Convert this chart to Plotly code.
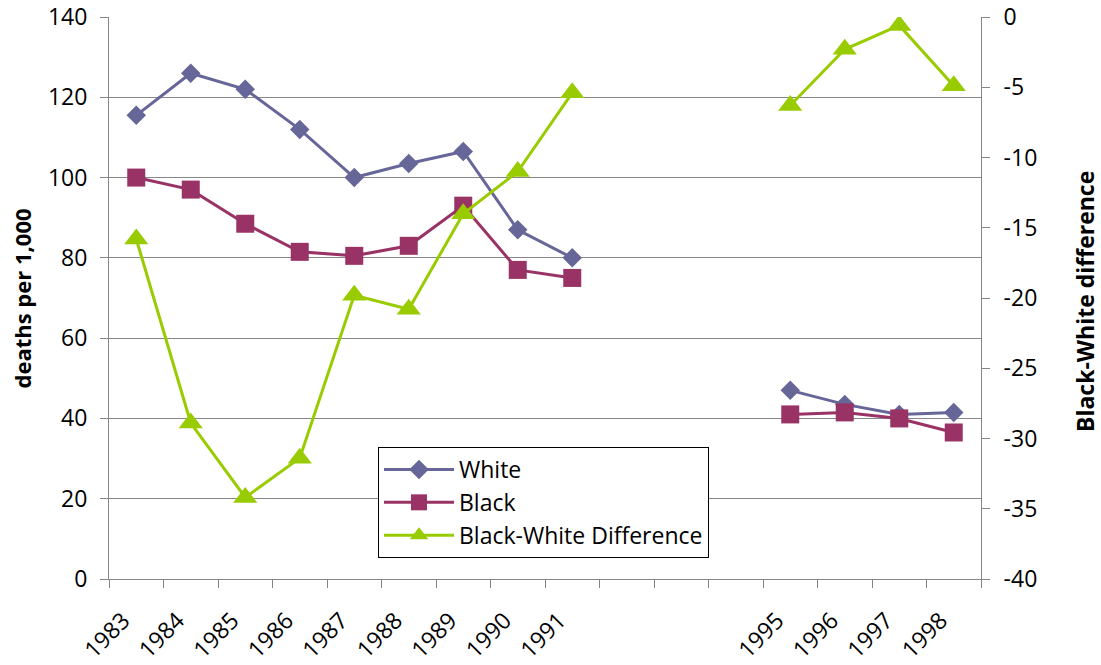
import plotly.graph_objects as go

# Year categories (1992-1994 carry no data and no label)
years = ["1983", "1984", "1985", "1986", "1987", "1988", "1989", "1990", "1991",
         "1992", "1993", "1994", "1995", "1996", "1997", "1998"]
tick_labels = ["1983", "1984", "1985", "1986", "1987", "1988", "1989", "1990", "1991",
               "", "", "", "1995", "1996", "1997", "1998"]

# Right-axis ticks, written with a plain hyphen
diff_ticks = [0, -5, -10, -15, -20, -25, -30, -35, -40]
diff_tick_labels = ["0", "-5", "-10", "-15", "-20", "-25", "-30", "-35", "-40"]

# Death rates per 1,000
white = [115.5, 126, 122, 112, 100, 103.5, 106.5, 87, 80,
         None, None, None, 47, 43.5, 41, 41.5]
black = [100, 97, 88.5, 81.5, 80.5, 83, 93, 77, 75,
         None, None, None, 41, 41.5, 40, 36.5]
# Black minus White difference (right axis)
difference = [-15.8, -28.9, -34.2, -31.4, -19.8, -20.8, -14, -11, -5.4,
              None, None, None, -6.3, -2.3, -0.6, -4.9]

FONT = "Open Sans"
AXIS_GREY = "#868686"

fig = go.Figure()
fig.add_trace(go.Scatter(
    x=years, y=white, name="White", mode="lines+markers",
    line=dict(color="#666699", width=3),
    marker=dict(symbol="diamond", size=15, color="#666699"),
    connectgaps=False,
))
fig.add_trace(go.Scatter(
    x=years, y=black, name="Black", mode="lines+markers",
    line=dict(color="#993366", width=3),
    marker=dict(symbol="square", size=18, color="#993366"),
    connectgaps=False,
))
fig.add_trace(go.Scatter(
    x=years, y=difference, name="Black-White Difference", mode="lines+markers",
    line=dict(color="#99CC00", width=3),
    marker=dict(symbol="triangle-up", size=21, color="#99CC00"),
    connectgaps=False, yaxis="y2",
))

fig.update_layout(
    width=1101, height=665,
    margin=dict(l=109, r=120, t=17, b=86, autoexpand=False),
    paper_bgcolor="white", plot_bgcolor="white",
    font=dict(family=FONT, size=23, color="black"),
    xaxis=dict(
        type="category", categoryorder="array", categoryarray=years,
        tickvals=years, ticktext=tick_labels,
        tickson="boundaries", ticks="outside", ticklen=8, tickcolor=AXIS_GREY,
        tickangle=-45, showgrid=False, showline=True, linecolor=AXIS_GREY,
        linewidth=1, range=[-0.5, 15.5], tickfont=dict(size=23),
        zeroline=False, automargin=False,
        ticklabelstandoff=18, ticklabelshift=-13,
    ),
    yaxis=dict(
        range=[0, 140], dtick=20, tick0=0, ticks="outside", ticklen=8,
        tickcolor=AXIS_GREY, showline=True, linecolor=AXIS_GREY, linewidth=1,
        showgrid=True, gridcolor=AXIS_GREY, gridwidth=1, zeroline=False,
        ticklabelstandoff=8, automargin=False,
    ),
    yaxis2=dict(
        overlaying="y", side="right", range=[-40, 0],
        tickmode="array", tickvals=diff_ticks, ticktext=diff_tick_labels,
        ticks="outside", ticklen=8, tickcolor=AXIS_GREY, showline=True,
        linecolor=AXIS_GREY, linewidth=1, showgrid=False, zeroline=False,
        ticklabelstandoff=9, automargin=False,
    ),
    legend=dict(
        x=0.3085, y=0.2349, xanchor="left", yanchor="top",
        bgcolor="white", bordercolor="black", borderwidth=1,
        font=dict(size=23), itemwidth=70,
    ),
    showlegend=True,
)

# Axis titles, both reading bottom-to-top
fig.add_annotation(
    text="<b>deaths per 1,000</b>", textangle=-90, showarrow=False,
    xref="paper", yref="paper", x=-0.0998, y=0.499,
    xanchor="center", yanchor="middle", font=dict(size=22),
)
fig.add_annotation(
    text="<b>Black-White difference</b>", textangle=-90, showarrow=False,
    xref="paper", yref="paper", x=1.1193, y=0.4929,
    xanchor="center", yanchor="middle", font=dict(size=23),
)

fig.write_html("out.html")
